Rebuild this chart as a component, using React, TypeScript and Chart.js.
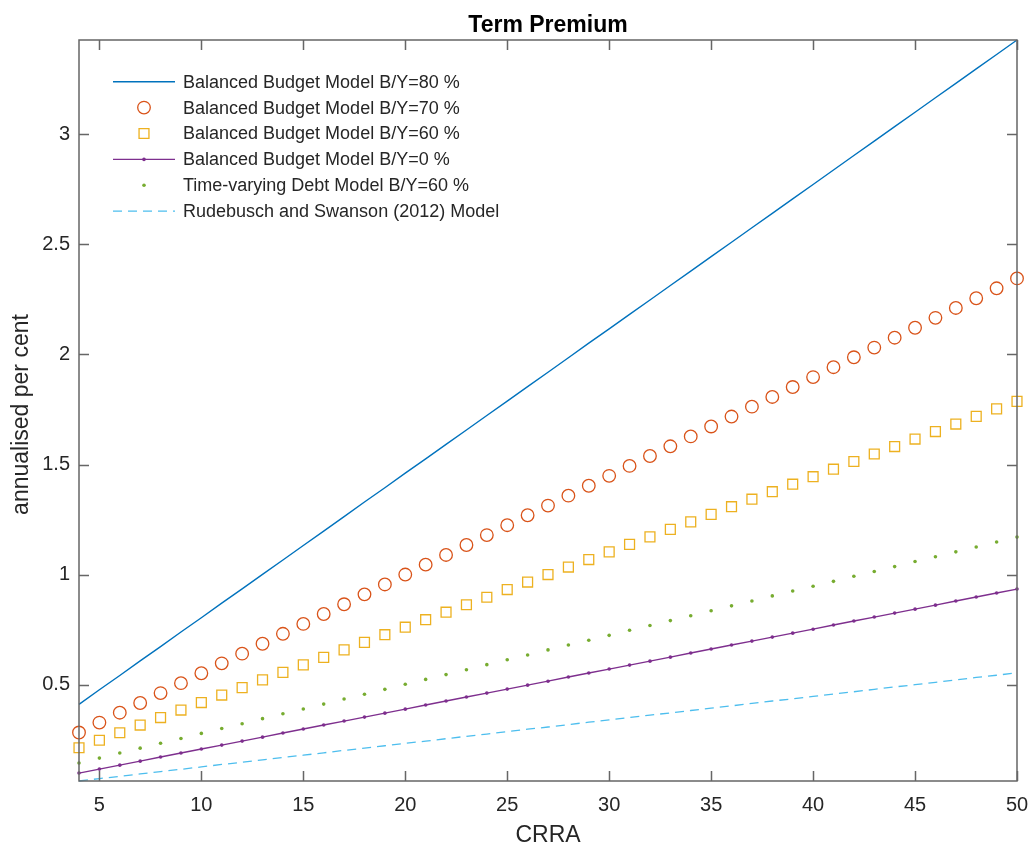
import React, { useEffect, useRef } from "react";
import { Chart, registerables } from "chart.js";

Chart.register(...registerables);

// ---------- data ----------
const crra = [4, 5, 6, 7, 8, 9, 10, 11, 12, 13, 14, 15, 16, 17, 18, 19, 20, 21, 22, 23, 24, 25, 26, 27, 28, 29, 30, 31, 32, 33, 34, 35, 36, 37, 38, 39, 40, 41, 42, 43, 44, 45, 46, 47, 48, 49, 50];

const bb80 = [0.412, 0.478, 0.543, 0.609, 0.674, 0.740, 0.805, 0.871, 0.936, 1.002, 1.067, 1.133, 1.198, 1.264, 1.330, 1.395, 1.461, 1.526, 1.592, 1.657, 1.723, 1.788, 1.854, 1.919, 1.985, 2.051, 2.116, 2.182, 2.247, 2.313, 2.378, 2.444, 2.509, 2.575, 2.640, 2.706, 2.771, 2.837, 2.903, 2.968, 3.034, 3.099, 3.165, 3.230, 3.296, 3.361, 3.427];

const bb70 = [0.284, 0.329, 0.374, 0.418, 0.463, 0.508, 0.553, 0.598, 0.642, 0.687, 0.732, 0.777, 0.822, 0.866, 0.911, 0.956, 1.001, 1.046, 1.090, 1.135, 1.180, 1.225, 1.270, 1.314, 1.359, 1.404, 1.449, 1.494, 1.539, 1.583, 1.628, 1.673, 1.718, 1.763, 1.807, 1.852, 1.897, 1.942, 1.987, 2.031, 2.076, 2.121, 2.166, 2.211, 2.255, 2.300, 2.345];

const bb60 = [0.215, 0.249, 0.283, 0.318, 0.352, 0.386, 0.420, 0.454, 0.488, 0.523, 0.557, 0.591, 0.625, 0.659, 0.693, 0.728, 0.762, 0.796, 0.830, 0.864, 0.898, 0.933, 0.967, 1.001, 1.035, 1.069, 1.104, 1.138, 1.172, 1.206, 1.240, 1.274, 1.309, 1.343, 1.377, 1.411, 1.445, 1.479, 1.514, 1.548, 1.582, 1.616, 1.650, 1.684, 1.719, 1.753, 1.787];

const bb0 = [0.100, 0.118, 0.136, 0.154, 0.173, 0.191, 0.209, 0.227, 0.245, 0.263, 0.282, 0.300, 0.318, 0.336, 0.354, 0.372, 0.390, 0.409, 0.427, 0.445, 0.463, 0.481, 0.499, 0.517, 0.536, 0.554, 0.572, 0.590, 0.608, 0.626, 0.645, 0.663, 0.681, 0.699, 0.717, 0.735, 0.753, 0.772, 0.790, 0.808, 0.826, 0.844, 0.862, 0.881, 0.899, 0.917, 0.935];

const tvd60 = [0.146, 0.168, 0.191, 0.213, 0.235, 0.257, 0.280, 0.302, 0.324, 0.347, 0.369, 0.391, 0.413, 0.436, 0.458, 0.480, 0.503, 0.525, 0.547, 0.569, 0.592, 0.614, 0.636, 0.659, 0.681, 0.703, 0.725, 0.748, 0.770, 0.792, 0.814, 0.837, 0.859, 0.881, 0.904, 0.926, 0.948, 0.970, 0.993, 1.015, 1.037, 1.060, 1.082, 1.104, 1.126, 1.149, 1.171];

const rs2012 = [0.064, 0.075, 0.085, 0.096, 0.107, 0.117, 0.128, 0.139, 0.149, 0.160, 0.171, 0.181, 0.192, 0.203, 0.213, 0.224, 0.235, 0.245, 0.256, 0.267, 0.277, 0.288, 0.299, 0.309, 0.320, 0.331, 0.341, 0.352, 0.363, 0.373, 0.384, 0.395, 0.405, 0.416, 0.427, 0.437, 0.448, 0.459, 0.469, 0.480, 0.491, 0.501, 0.512, 0.523, 0.534, 0.544, 0.555];

const seriesLabels = [
  "Balanced Budget Model B/Y=80 %",
  "Balanced Budget Model B/Y=70 %",
  "Balanced Budget Model B/Y=60 %",
  "Balanced Budget Model B/Y=0 %",
  "Time-varying Debt Model B/Y=60 %",
  "Rudebusch and Swanson (2012) Model",
];

const xTicks = [5, 10, 15, 20, 25, 30, 35, 40, 45, 50];
const yTicks = [0.5, 1, 1.5, 2, 2.5, 3];
const xRange = [4, 50];
const yRange = [0.064, 3.427];

const chartTitle = "Term Premium";
const xTitle = "CRRA";
const yTitle = "annualised per cent";

// ---------- styles ----------
const FONT = "'Liberation Sans', Arial, Helvetica, sans-serif";
const TEXT = "#262626";
const AXIS = "#666666";
const C_BLUE = "#0072BD";
const C_ORANGE = "#D95319";
const C_YELLOW = "#EDB120";
const C_PURPLE = "#7E2F8E";
const C_GREEN = "#77AC30";
const C_CYAN = "#4DBEEE";

const pts = (ys: number[]) => crra.map((x, i) => ({ x, y: ys[i] }));

const boxPlugin = {
  id: "matlabBox",
  afterDatasetsDraw(chart: any) {
    const { ctx, chartArea: a, scales } = chart;
    ctx.save();
    ctx.strokeStyle = AXIS;
    ctx.lineWidth = 1.5;
    ctx.beginPath();
    ctx.rect(a.left, a.top, a.right - a.left, a.bottom - a.top);
    ctx.stroke();
    const tl = 10;
    ctx.beginPath();
    xTicks.forEach((v) => {
      const px = Math.round(scales.x.getPixelForValue(v)) + 0.5;
      ctx.moveTo(px, a.bottom);
      ctx.lineTo(px, a.bottom - tl);
      ctx.moveTo(px, a.top);
      ctx.lineTo(px, a.top + tl);
    });
    yTicks.forEach((v) => {
      const py = Math.round(scales.y.getPixelForValue(v)) + 0.5;
      ctx.moveTo(a.left, py);
      ctx.lineTo(a.left + tl, py);
      ctx.moveTo(a.right, py);
      ctx.lineTo(a.right - tl, py);
    });
    ctx.stroke();
    ctx.restore();
  },
  afterDraw(chart: any) {
    const { ctx, chartArea: a } = chart;
    ctx.save();
    const cx = (a.left + a.right) / 2;
    // title
    ctx.fillStyle = "#000";
    ctx.font = `bold 23px ${FONT}`;
    ctx.textAlign = "center";
    ctx.textBaseline = "alphabetic";
    ctx.fillText(chartTitle, cx, 32);
    // x title
    ctx.fillStyle = TEXT;
    ctx.font = `23px ${FONT}`;
    ctx.fillText(xTitle, cx, 842);
    // y title
    ctx.save();
    ctx.translate(22, (a.top + a.bottom) / 2 + 4);
    ctx.rotate(-Math.PI / 2);
    ctx.textBaseline = "middle";
    ctx.fillText(yTitle, 0, 0);
    ctx.restore();

    // legend
    const ds = chart.data.datasets;
    const x0 = 113, x1 = 175, xm = 144, xt = 183;
    ds.forEach((d: any, i: number) => {
      const y = 81.7 + i * 25.9;
      if (d.showLine !== false) {
        ctx.save();
        ctx.strokeStyle = d.borderColor;
        ctx.lineWidth = d.borderWidth;
        ctx.setLineDash(d.borderDash || []);
        ctx.beginPath();
        ctx.moveTo(x0, y);
        ctx.lineTo(x1, y);
        ctx.stroke();
        ctx.restore();
      }
      if (d.pointRadius > 0) {
        ctx.save();
        ctx.strokeStyle = d.pointBorderColor;
        ctx.fillStyle = d.pointBackgroundColor;
        ctx.lineWidth = d.pointBorderWidth;
        ctx.beginPath();
        if (d.pointStyle === "rect") {
          const s = d.pointRadius * Math.SQRT1_2;
          ctx.rect(xm - s, y - s, 2 * s, 2 * s);
        } else {
          ctx.arc(xm, y, d.pointRadius, 0, Math.PI * 2);
        }
        if (d.pointBackgroundColor !== "rgba(0,0,0,0)") ctx.fill();
        if (d.pointBorderWidth > 0) ctx.stroke();
        ctx.restore();
      }
      ctx.fillStyle = TEXT;
      ctx.font = `18px ${FONT}`;
      ctx.textAlign = "left";
      ctx.textBaseline = "middle";
      ctx.fillText(d.label, xt, y + 1);
    });
    ctx.restore();
  },
};

export default function App() {
  const ref = useRef<HTMLCanvasElement | null>(null);

  useEffect(() => {
    if (!ref.current) return;
    const chart = new Chart(ref.current, {
      type: "line",
      data: {
        datasets: [
          {
            label: seriesLabels[0],
            data: pts(bb80),
            borderColor: C_BLUE,
            borderWidth: 1.4,
            pointRadius: 0,
            pointBorderWidth: 0,
            pointBackgroundColor: C_BLUE,
            pointBorderColor: C_BLUE,
            showLine: true,
            fill: false,
            clip: false,
          },
          {
            label: seriesLabels[1],
            data: pts(bb70),
            borderColor: C_ORANGE,
            showLine: false,
            pointStyle: "circle",
            pointRadius: 6.3,
            pointBorderWidth: 1.3,
            pointBorderColor: C_ORANGE,
            pointBackgroundColor: "rgba(0,0,0,0)",
            clip: false,
          },
          {
            label: seriesLabels[2],
            data: pts(bb60),
            borderColor: C_YELLOW,
            showLine: false,
            pointStyle: "rect",
            pointRadius: 7,
            pointBorderWidth: 1.3,
            pointBorderColor: C_YELLOW,
            pointBackgroundColor: "rgba(0,0,0,0)",
            clip: false,
          },
          {
            label: seriesLabels[3],
            data: pts(bb0),
            borderColor: C_PURPLE,
            borderWidth: 1.4,
            showLine: true,
            pointStyle: "circle",
            pointRadius: 1.8,
            pointBorderWidth: 0,
            pointBorderColor: C_PURPLE,
            pointBackgroundColor: C_PURPLE,
            clip: false,
          },
          {
            label: seriesLabels[4],
            data: pts(tvd60),
            borderColor: C_GREEN,
            showLine: false,
            pointStyle: "circle",
            pointRadius: 1.8,
            pointBorderWidth: 0,
            pointBorderColor: C_GREEN,
            pointBackgroundColor: C_GREEN,
            clip: false,
          },
          {
            label: seriesLabels[5],
            data: pts(rs2012),
            borderColor: C_CYAN,
            borderWidth: 1.3,
            borderDash: [9, 6],
            showLine: true,
            pointRadius: 0,
            pointBorderWidth: 0,
            pointBorderColor: C_CYAN,
            pointBackgroundColor: C_CYAN,
            clip: false,
          },
        ] as any,
      },
      options: {
        animation: false,
        responsive: false,
        devicePixelRatio: 1,
        layout: { padding: { top: 40, right: 14, left: 0, bottom: 0 } },
        plugins: {
          legend: { display: false },
          title: { display: false },
          tooltip: { enabled: false },
        },
        elements: { line: { tension: 0 } },
        scales: {
          x: {
            type: "linear",
            min: xRange[0],
            max: xRange[1],
            grid: { display: false, drawTicks: false },
            border: { display: false },
            afterBuildTicks: (s: any) => {
              s.ticks = xTicks.map((v) => ({ value: v }));
            },
            afterFit: (s: any) => {
              s.height = 65;
              s.paddingLeft = 0;
              s.paddingRight = 0;
            },
            ticks: {
              autoSkip: false,
              maxRotation: 0,
              padding: 12,
              color: TEXT,
              font: { size: 20, family: FONT },
              callback: (v: any) => String(v),
            },
          },
          y: {
            type: "linear",
            min: yRange[0],
            max: yRange[1],
            grid: { display: false, drawTicks: false },
            border: { display: false },
            afterBuildTicks: (s: any) => {
              s.ticks = yTicks.map((v) => ({ value: v }));
            },
            afterFit: (s: any) => {
              s.width = 79;
              s.paddingTop = 0;
              s.paddingBottom = 0;
            },
            ticks: {
              autoSkip: false,
              padding: 9,
              color: TEXT,
              font: { size: 20, family: FONT },
              callback: (v: any) => String(v),
            },
          },
        },
      } as any,
      plugins: [boxPlugin],
    });
    return () => chart.destroy();
  }, []);

  return (
    <canvas
      ref={ref}
      width={1031}
      height={846}
      style={{ position: "fixed", left: 0, top: 0, width: 1031, height: 846, background: "#fff" }}
    />
  );
}
